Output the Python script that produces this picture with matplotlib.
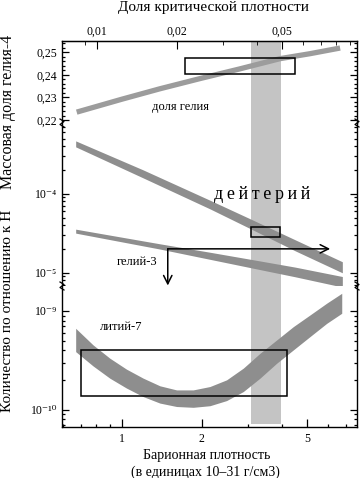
import matplotlib
matplotlib.use('Agg')
import matplotlib.pyplot as plt
from matplotlib.ticker import FixedLocator, FixedFormatter, NullFormatter
from matplotlib.lines import Line2D

plt.rcParams['font.family'] = ['Liberation Serif', 'DejaVu Serif']

# --- данные ---
# гелий-4 (массовая доля)
he4_rho = [0.676, 1.0, 1.391, 1.97, 2.787, 3.944, 5.122, 6.65]
he4_y = [0.2235, 0.2292, 0.2338, 0.2383, 0.2426, 0.2471, 0.2493, 0.2518]
he4_box_rho = [1.73, 4.5]
he4_box_y = [0.2402, 0.2473]

# дейтерий (полоса: низ, верх)
d_rho = [0.67, 1.2, 2.15, 3.1, 4.5, 6.78]
d_lo = [3.94e-4, 1.60e-4, 6.45e-5, 3.53e-5, 1.90e-5, 1.00e-5]
d_hi = [4.69e-4, 2.02e-4, 8.30e-5, 4.70e-5, 2.62e-5, 1.38e-5]
d_box_rho = [3.08, 3.95]
d_box_y = [2.88e-5, 3.85e-5]

# гелий-3
he3_rho = [0.67, 1.39, 2.15, 3.1, 4.5, 6.78]
he3_lo = [3.18e-5, 2.00e-5, 1.48e-5, 1.15e-5, 8.90e-6, 6.60e-6]
he3_hi = [3.57e-5, 2.33e-5, 1.82e-5, 1.47e-5, 1.18e-5, 8.97e-6]
he3_lim_rho = [1.49, 6.1]
he3_lim_y = [2.01e-5, 6.9e-6]

# литий-7
li_rho = [0.670, 0.779, 0.901, 1.041, 1.204, 1.391, 1.608, 1.858, 2.148,
          2.483, 2.870, 3.317, 3.834, 4.432, 5.122, 5.921, 6.745]
li_lo = [3.88e-10, 2.78e-10, 2.09e-10, 1.66e-10, 1.36e-10, 1.17e-10, 1.08e-10, 1.06e-10, 1.10e-10,
         1.24e-10, 1.53e-10, 2.09e-10, 2.96e-10, 4.04e-10, 5.51e-10, 7.50e-10, 9.48e-10]
li_hi = [6.68e-10, 4.54e-10, 3.33e-10, 2.58e-10, 2.09e-10, 1.75e-10, 1.59e-10, 1.59e-10, 1.72e-10,
         2.01e-10, 2.64e-10, 3.73e-10, 5.09e-10, 6.95e-10, 9.12e-10, 1.20e-9, 1.51e-9]
li_box_rho = [0.70, 4.19]
li_box_y = [1.39e-10, 4.0e-10]

# полоса допустимой плотности
band_rho = [3.07, 3.98]

omega_per_rho = 0.01242

curve_col = '#8e8e8e'
band_col = '#c4c4c4'

fig = plt.figure(figsize=(3.62, 4.78), dpi=100)
L, R = 62 / 362, 357 / 362
H = 478
def fy(px):
    return 1 - px / H

ax1 = fig.add_axes([L, fy(123), R - L, (123 - 41) / H])
ax2 = fig.add_axes([L, fy(286), R - L, (286 - 123) / H], sharex=ax1)
ax3 = fig.add_axes([L, fy(427), R - L, (427 - 286) / H], sharex=ax1)

for ax in (ax1, ax2, ax3):
    ax.set_xscale('log')
    ax.set_xlim(0.595, 7.7)
    ax.axvspan(band_rho[0], band_rho[1], color=band_col, lw=0, zorder=0,
               ymin=0.02 if ax is ax3 else 0)
    ax.tick_params(which='both', direction='in', left=True, right=True,
                   top=False, bottom=False, labelbottom=False, labelsize=8.5,
                   width=0.9)
    ax.tick_params(which='major', length=5)
    ax.tick_params(which='minor', length=2.5)
    for s in ax.spines.values():
        s.set_linewidth(1.0)

ax1.spines['bottom'].set_visible(False)
ax2.spines['top'].set_visible(False)
ax2.spines['bottom'].set_visible(False)
ax3.spines['top'].set_visible(False)

# --- гелий-4 ---
ax1.set_ylim(0.2187, 0.2549)
ax1.plot(he4_rho, he4_y, color='#9c9c9c', lw=3.8, solid_capstyle='butt', zorder=2)
ax1.add_patch(plt.Rectangle((he4_box_rho[0], he4_box_y[0]),
                            he4_box_rho[1] - he4_box_rho[0], he4_box_y[1] - he4_box_y[0],
                            fill=False, ec='black', lw=1.1, zorder=3))
ax1.yaxis.set_major_locator(FixedLocator([0.22, 0.23, 0.24, 0.25]))
ax1.yaxis.set_major_formatter(FixedFormatter(['0,22', '0,23', '0,24', '0,25']))
ax1.yaxis.set_minor_locator(FixedLocator([0.22 + 0.002 * i for i in range(18)]))
ax1.text(1.67, 0.2257, 'доля гелия', fontsize=9, ha='center', va='center')

# --- дейтерий и гелий-3 ---
ax2.set_yscale('log')
ax2.set_ylim(6.8e-6, 7.9e-4)
ax2.fill_between(d_rho, d_lo, d_hi, color=curve_col, lw=0, zorder=2)
ax2.fill_between(he3_rho, he3_lo, he3_hi, color=curve_col, lw=0, zorder=2)
ax2.add_patch(plt.Rectangle((d_box_rho[0], d_box_y[0]),
                            d_box_rho[1] - d_box_rho[0], d_box_y[1] - d_box_y[0],
                            fill=False, ec='black', lw=1.1, zorder=3))
ax2.annotate('', xy=(he3_lim_rho[1], he3_lim_y[0]), xytext=(he3_lim_rho[0], he3_lim_y[0]),
             arrowprops=dict(arrowstyle='->', lw=1.1, color='black',
                             mutation_scale=15, shrinkA=0, shrinkB=0), zorder=4)
ax2.annotate('', xy=(he3_lim_rho[0], he3_lim_y[1]), xytext=(he3_lim_rho[0], he3_lim_y[0]),
             arrowprops=dict(arrowstyle='->', lw=1.1, color='black',
                             mutation_scale=15, shrinkA=0, shrinkB=0), zorder=4)
ax2.yaxis.set_major_locator(FixedLocator([1e-5, 1e-4]))
ax2.yaxis.set_major_formatter(FixedFormatter(['10⁻⁵', '10⁻⁴']))
ax2.yaxis.set_minor_locator(FixedLocator([m * 10.0 ** e for e in (-6, -5, -4) for m in range(2, 10)]))
ax2.yaxis.set_minor_formatter(NullFormatter())
ax2.text(3.38, 9.7e-5, '\u2009'.join('дейтерий'), fontsize=13, ha='center', va='center')
ax2.text(1.14, 1.38e-5, 'гелий-3', fontsize=9, ha='center', va='center')

# --- литий-7 ---
ax3.set_yscale('log')
ax3.set_ylim(6.7e-11, 1.79e-9)
ax3.fill_between(li_rho, li_lo, li_hi, color=curve_col, lw=0, zorder=2)
ax3.add_patch(plt.Rectangle((li_box_rho[0], li_box_y[0]),
                            li_box_rho[1] - li_box_rho[0], li_box_y[1] - li_box_y[0],
                            fill=False, ec='black', lw=1.1, zorder=3))
ax3.yaxis.set_major_locator(FixedLocator([1e-10, 1e-9]))
ax3.yaxis.set_major_formatter(FixedFormatter(['10⁻¹⁰', '10⁻⁹']))
ax3.yaxis.set_minor_locator(FixedLocator([m * 10.0 ** e for e in (-11, -10, -9) for m in range(2, 10)]))
ax3.yaxis.set_minor_formatter(NullFormatter())
ax3.text(0.99, 6.9e-10, 'литий-7', fontsize=9, ha='center', va='center')

ax3.tick_params(which='both', bottom=True, labelbottom=True)
ax3.xaxis.set_major_locator(FixedLocator([1, 2, 5]))
ax3.xaxis.set_major_formatter(FixedFormatter(['1', '2', '5']))
ax3.xaxis.set_minor_locator(FixedLocator([0.6, 0.7, 0.8, 0.9, 3, 4, 6, 7]))
ax3.xaxis.set_minor_formatter(NullFormatter())
ax3.tick_params(axis='x', which='major', length=6, pad=4)

# --- верхняя ось: доля критической плотности ---
sec = ax1.secondary_xaxis('top', functions=(lambda r: r * omega_per_rho,
                                             lambda o: o / omega_per_rho))
sec.xaxis.set_major_locator(FixedLocator([0.01, 0.02, 0.05]))
sec.xaxis.set_major_formatter(FixedFormatter(['0,01', '0,02', '0,05']))
sec.xaxis.set_minor_locator(FixedLocator([0.009, 0.03, 0.04, 0.06, 0.07, 0.08, 0.09]))
sec.xaxis.set_minor_formatter(NullFormatter())
sec.tick_params(which='both', direction='in', labelsize=8.5, pad=2)
sec.tick_params(which='major', length=6)
sec.tick_params(which='minor', length=3)

# --- значки разрыва оси ---
for ypx in (123, 286):
    for xpx in (62, 357):
        xs = [xpx - 2, xpx + 2, xpx - 2, xpx + 2]
        ys = [ypx - 4, ypx - 1.5, ypx + 1.5, ypx + 4]
        fig.add_artist(Line2D([x / 362 for x in xs], [fy(y) for y in ys],
                              color='black', lw=0.9))

# --- подписи ---
fig.text(213 / 362, fy(7), 'Доля критической плотности', fontsize=11,
         ha='center', va='center')
fig.text(207 / 362, fy(456), 'Барионная плотность', fontsize=10,
         ha='center', va='center')
fig.text(205 / 362, fy(472), '(в единицах 10–31 г/см3)', fontsize=10,
         ha='center', va='center')
fig.text(8 / 362, fy(112), 'Массовая доля гелия-4', fontsize=11.5,
         rotation=90, ha='center', va='center')
fig.text(8 / 362, fy(311), 'Количество по отношению к Н', fontsize=11,
         rotation=90, ha='center', va='center')

fig.savefig('out.png', dpi=100)
